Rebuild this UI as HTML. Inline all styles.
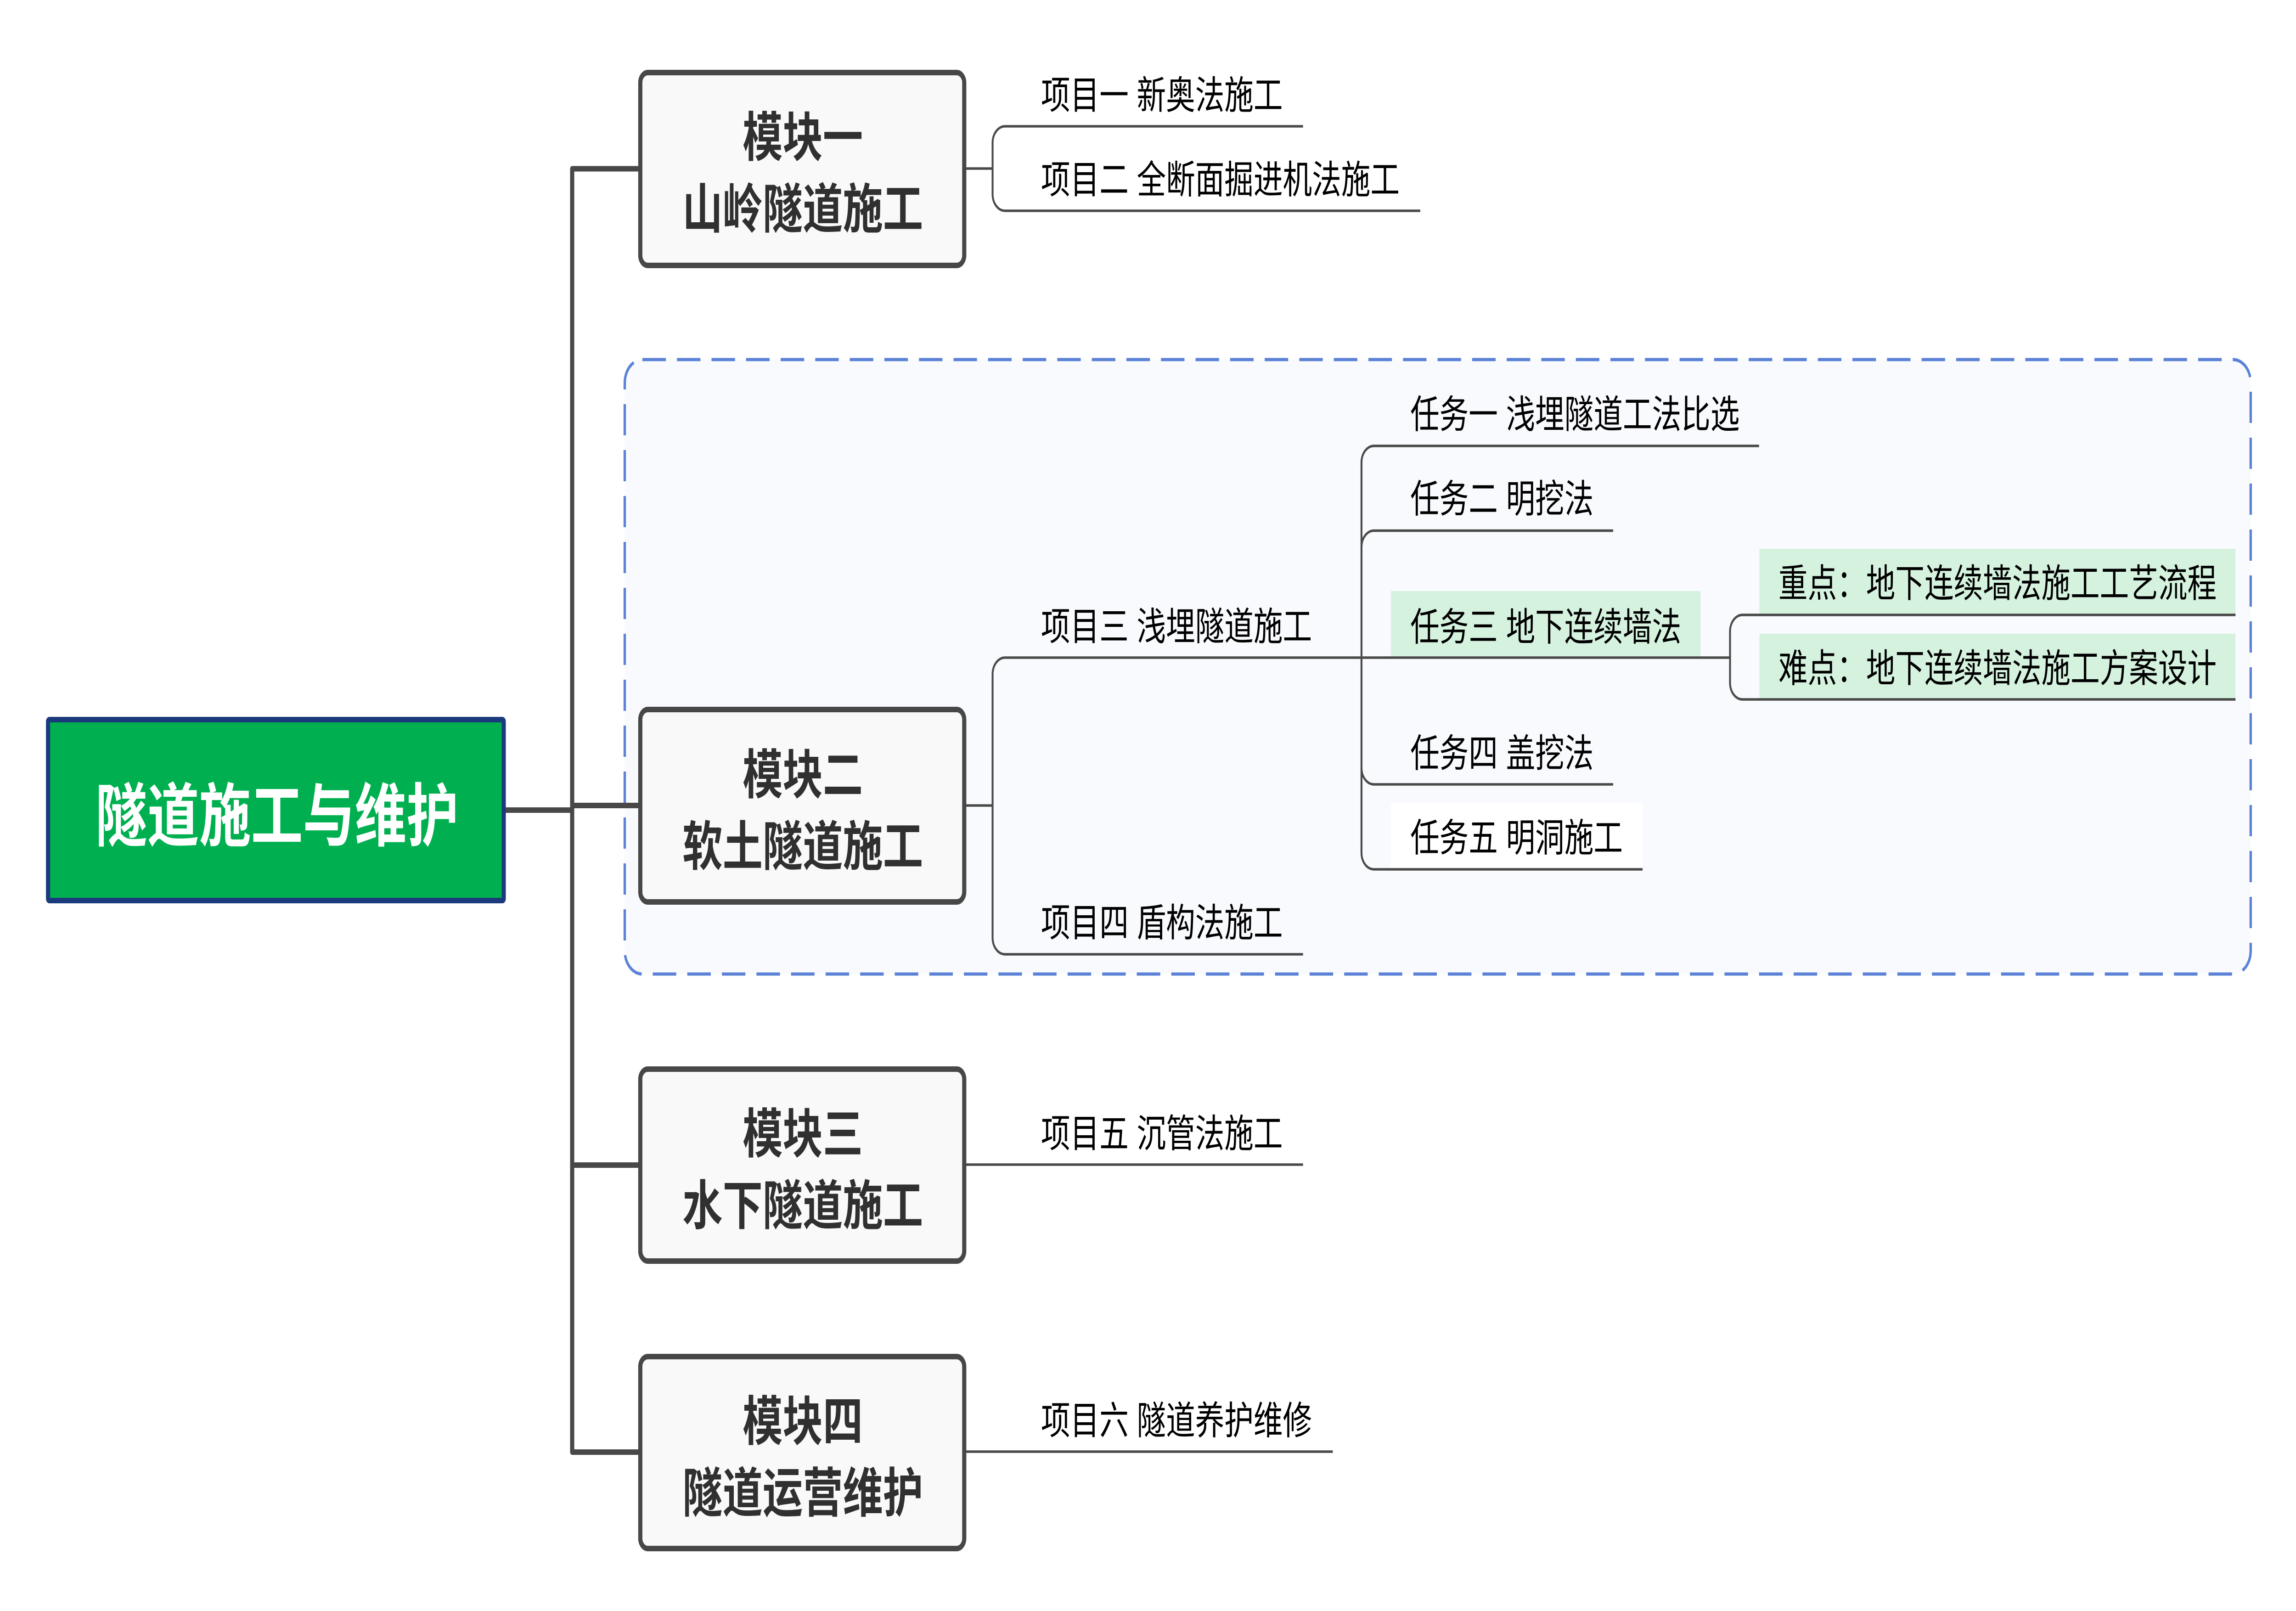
<!DOCTYPE html>
<html lang="zh">
<head>
<meta charset="utf-8">
<title>隧道施工与维护</title>
<style>
html,body{margin:0;padding:0;background:#fff;width:100%;height:100%;overflow:hidden}
svg{display:block;width:100vw;height:100vh}
text{font-family:"Liberation Sans","Noto Sans CJK SC",sans-serif}
.t{font-size:84.5px;fill:#000}
.b{font-size:116px;font-weight:700;fill:#303030;text-anchor:middle}
.l{fill:none;stroke:#4a4a4a;stroke-width:5.5}
.tr{fill:none;stroke:#484848;stroke-width:12;stroke-linejoin:round}
.box{fill:#f9f9f9;stroke:#474747;stroke-width:12}
</style>
</head>
<body>
<svg xmlns="http://www.w3.org/2000/svg" viewBox="0 0 6641 3508" preserveAspectRatio="none">
<rect width="6641" height="3508" fill="#ffffff"/>

<!-- boundary -->
<rect x="1807" y="783" width="4703" height="1338" rx="51" ry="51" fill="#f9fafd" stroke="#5b82d6" stroke-width="7" stroke-dasharray="68 32"/>

<!-- highlights -->
<rect x="4023" y="1287" width="896" height="145" fill="#d5f2df"/>
<rect x="4023" y="1749" width="728" height="144" fill="#ffffff"/>
<rect x="5089" y="1195" width="1377" height="144" fill="#d5f2df"/>
<rect x="5089" y="1380" width="1377" height="143" fill="#d5f2df"/>

<!-- main trunk -->
<path class="tr" d="M1850 367.500H1655V3162H1850"/>
<path class="tr" d="M1463 1764H1655"/>
<path class="tr" d="M1655 1754H1850"/>
<path class="tr" d="M1655 2537H1850"/>

<!-- module 1 branches -->
<path class="l" d="M2792 367H2871"/>
<path class="l" d="M3769 275H2907A36 36 0 0 0 2871 311V423A36 36 0 0 0 2907 459H4108"/>

<!-- module 2 branches -->
<path class="l" d="M2792 1754H2871"/>
<path class="l" d="M5004 1432H2907A36 36 0 0 0 2871 1468V2042A36 36 0 0 0 2907 2078H3769"/>

<!-- tasks -->
<path class="l" d="M5088 971H3974A36 36 0 0 0 3938 1007V1432"/>
<path class="l" d="M4666 1155.500H3974A36 36 0 0 0 3938 1191.500"/>
<path class="l" d="M3938 1432V1857A36 36 0 0 0 3974 1893H4751"/>
<path class="l" d="M3938 1672A36 36 0 0 0 3974 1708H4666"/>

<!-- key points -->
<path class="l" d="M6466 1339H5040A36 36 0 0 0 5004 1375V1487A36 36 0 0 0 5040 1523H6466"/>

<!-- modules 3, 4 branches -->
<path class="l" d="M2792 2536H3769"/>
<path class="l" d="M2792 3161H3855"/>

<!-- root -->
<rect x="139" y="1567" width="1318" height="394" rx="4" fill="#00b050" stroke="#1b3a7d" stroke-width="12"/>
<text x="801" y="1830" text-anchor="middle" font-size="150" font-weight="700" fill="#ffffff">隧道施工与维护</text>

<!-- module boxes -->
<rect class="box" x="1852" y="158" width="937" height="420" rx="22"/>
<text class="b" x="2322" y="340">模块一</text>
<text class="b" x="2322" y="496">山岭隧道施工</text>

<rect class="box" x="1852" y="1545" width="937" height="419" rx="22"/>
<text class="b" x="2322" y="1728">模块二</text>
<text class="b" x="2322" y="1884">软土隧道施工</text>

<rect class="box" x="1852" y="2328" width="937" height="418" rx="22"/>
<text class="b" x="2322" y="2510">模块三</text>
<text class="b" x="2322" y="2666">水下隧道施工</text>

<rect class="box" x="1852" y="2954" width="937" height="418" rx="22"/>
<text class="b" x="2322" y="3136">模块四</text>
<text class="b" x="2322" y="3292">隧道运营维护</text>

<!-- project labels -->
<text class="t" x="3011" y="237">项目一 新奥法施工</text>
<text class="t" x="3011" y="421">项目二 全断面掘进机法施工</text>
<text class="t" x="3011" y="1394">项目三 浅埋隧道施工</text>
<text class="t" x="3011" y="2039">项目四 盾构法施工</text>
<text class="t" x="3011" y="2498">项目五 沉管法施工</text>
<text class="t" x="3011" y="3123">项目六 隧道养护维修</text>

<!-- task labels -->
<text class="t" x="4079" y="932">任务一 浅埋隧道工法比选</text>
<text class="t" x="4079" y="1116">任务二 明挖法</text>
<text class="t" x="4079" y="1395">任务三 地下连续墙法</text>
<text class="t" x="4079" y="1670">任务四 盖挖法</text>
<text class="t" x="4079" y="1854">任务五 明洞施工</text>

<!-- key point labels -->
<text class="t" x="5144" y="1300">重点：地下连续墙法施工工艺流程</text>
<text class="t" x="5144" y="1485">难点：地下连续墙法施工方案设计</text>
</svg>
</body>
</html>
